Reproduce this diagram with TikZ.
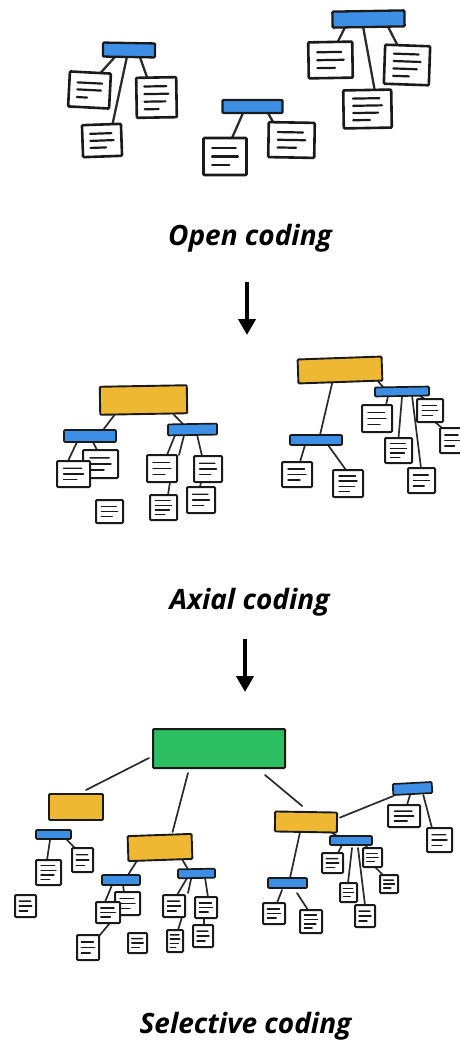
\documentclass[tikz,border=0pt]{standalone}
\usepackage{fontspec}
\setmainfont{Open Sans}
\usetikzlibrary{calc,arrows.meta}
\pgfdeclarelayer{bg}
\pgfdeclarelayer{paper}
\pgfsetlayers{paper,bg,main}
\definecolor{cblue}{HTML}{3D8FE6}
\definecolor{cyel}{HTML}{EFB833}
\definecolor{cgreen}{HTML}{2EBE62}
\definecolor{ink}{HTML}{1A1A1A}
\definecolor{linkc}{HTML}{2B2B2B}
\def\Lthree{0.28/0.75,0.5/0.8,0.72/0.6}
\def\Lfour{0.22/0.75,0.41/0.8,0.6/0.72,0.79/0.55}
\def\Lpa{0.3/0.8,0.5/0.78,0.72/0.45}
\newcommand{\docnode}[7]{%
 \node[docbox,minimum width=#4pt,minimum height=#5pt,rotate=#6] (#1) at (#2,#3) {};
 \foreach \ff/\ee in #7 {
   \draw[docline] ($($(#1.north west)!\ff!(#1.south west)$)!0.2!($(#1.north east)!\ff!(#1.south east)$)$) -- ($($(#1.north west)!\ff!(#1.south west)$)!\ee!($(#1.north east)!\ff!(#1.south east)$)$);
 }}
\newcommand{\barnode}[7]{\node[#7,minimum width=#4pt,minimum height=#5pt,rotate=#6] (#1) at (#2,#3) {};}
\tikzset{
 docbox/.style={draw=ink,fill=white,line width=2pt,rounded corners=1pt,inner sep=0pt,outer sep=0pt},
 docline/.style={draw=ink,line width=1.4pt,line cap=round},
 bluebar/.style={draw=ink,fill=cblue,line width=1.7pt,rounded corners=1pt,inner sep=0pt,outer sep=0pt},
 yelbox/.style={draw=ink,fill=cyel,line width=1.9pt,rounded corners=1pt,inner sep=0pt,outer sep=0pt},
 greenbox/.style={draw=ink,fill=cgreen,line width=2pt,rounded corners=1pt,inner sep=0pt,outer sep=0pt},
 conn/.style={draw=linkc,line width=1.7pt,line cap=round},
 bigarrow/.style={draw=black,line width=4pt,-{Triangle[width=17pt,length=16pt]}},
 codingtext/.style={font=\fontsize{28}{32}\selectfont\bfseries\itshape,inner sep=0pt}
}
\begin{document}
\begin{tikzpicture}[x=1pt,y=-1pt]
\useasboundingbox (0,0) rectangle (459,1041);
\begin{pgfonlayer}{paper}
\fill[white] (0,0) rectangle (459,1041);
\end{pgfonlayer}

% ---------- Panel 1: open coding ----------
\begin{scope}[docbox/.append style={line width=2.6pt},docline/.append style={line width=2.2pt},
  bluebar/.append style={line width=2.3pt},conn/.append style={line width=2.3pt}]
\barnode{b1}{129}{50}{52}{14}{-1}{bluebar}
\docnode{p1a}{89.5}{90}{41}{35}{-3}{\Lpa}
\docnode{p1b}{156.5}{97.5}{40}{40}{1}{\Lfour}
\docnode{p1c}{102}{140.5}{39}{32}{2}{\Lthree}
\barnode{b2}{252.5}{106.5}{60}{13}{0}{bluebar}
\docnode{p2a}{225}{156.5}{43}{37}{0}{\Lthree}
\docnode{p2b}{291.5}{140}{46}{35}{-1}{\Lthree}
\barnode{b3}{368.5}{19}{72}{16}{1}{bluebar}
\docnode{p3a}{330.5}{60}{44}{36}{1}{\Lthree}
\docnode{p3b}{407}{65}{45}{39}{-2}{\Lfour}
\docnode{p3c}{367.5}{109}{48}{38}{1}{\Lfour}
\begin{pgfonlayer}{bg}
\draw[conn] ([xshift=-14pt]b1.south) -- ([xshift=10.5pt]p1a.north);
\draw[conn] ([xshift=-2pt]b1.south) -- ([xshift=11pt]p1c.north);
\draw[conn] ([xshift=11pt]b1.south) -- ([xshift=-9pt]p1b.north);
\draw[conn] ([xshift=-9.5pt]b2.south) -- ([xshift=7pt]p2a.north);
\draw[conn] ([xshift=15.5pt]b2.south) -- ([xshift=-18.5pt]p2b.north);
\draw[conn] ([xshift=-23.5pt]b3.south) -- ([xshift=7.5pt]p3a.north);
\draw[conn] ([xshift=-5.5pt]b3.south) -- ([xshift=7.5pt]p3c.north);
\draw[conn] ([xshift=19.5pt]b3.south) -- ([xshift=-10pt]p3b.north);
\end{pgfonlayer}
\end{scope}

\node[codingtext] (lab1) at (250,238.5) {Open coding};
\coordinate (a1s) at (247,282);
\coordinate (a1e) at (247,335);
\draw[bigarrow] (a1s) -- (a1e);

% ---------- Panel 2: axial coding ----------
\barnode{y1}{143.5}{400}{87}{28}{1}{yelbox}
\barnode{c1}{90}{436}{52}{12}{0}{bluebar}
\barnode{c2}{192.5}{429.5}{49}{11}{1}{bluebar}
\docnode{q2}{100.5}{464}{35}{28}{0}{\Lthree}
\docnode{q1}{73.5}{474}{33}{26}{0}{\Lthree}
\docnode{q0}{109.5}{511.5}{27}{23}{0}{\Lthree}
\docnode{q3}{162}{468.5}{30}{27}{0}{\Lthree}
\docnode{q4}{208}{469}{28}{26}{0}{\Lthree}
\docnode{q5}{163.5}{507.5}{27}{25}{0}{\Lfour}
\docnode{q6}{201}{500}{28}{26}{0}{\Lthree}
\barnode{y2}{340}{370}{84}{24}{2}{yelbox}
\barnode{c3}{316}{440}{52}{10}{0}{bluebar}
\barnode{c4}{402}{391.5}{54}{9}{1}{bluebar}
\docnode{r1}{297}{474.5}{30}{25}{0}{\Lthree}
\docnode{r2}{348}{483.5}{30}{27}{0}{\Lfour}
\docnode{e1}{377}{418.5}{30}{27}{0}{\Lthree}
\docnode{e2}{430}{410.5}{26}{23}{0}{\Lthree}
\docnode{e3}{398.5}{450.5}{27}{25}{0}{\Lfour}
\docnode{e4}{421.5}{480.5}{27}{25}{0}{\Lthree}
\docnode{e5}{452}{440.5}{24}{25}{0}{\Lthree}
\begin{pgfonlayer}{bg}
\draw[conn] ([xshift=-28.5pt]y1.south) -- ([xshift=13pt]c1.north);
\draw[conn] ([xshift=29.5pt]y1.south) -- ([xshift=-9.5pt]c2.north);
\draw[conn] ([xshift=-13pt]c1.south) -- ([xshift=-5.5pt]q1.north);
\draw[conn] ([xshift=3pt]c1.south) -- ([xshift=-3.5pt]q2.north);
\draw[conn] ([xshift=-17.5pt]c2.south) -- ([xshift=5pt]q3.north);
\draw[conn] ([xshift=-8.5pt]c2.south) -- ([xshift=2pt]q3.north east);
\draw[conn] ([xshift=4.5pt]c2.south) -- ([xshift=-6pt]q4.north);
\draw[conn] ([xshift=8pt]q3.south) -- ([xshift=4.5pt]q5.north);
\draw[conn] ([xshift=-7pt]q4.south) -- ([xshift=-1pt]q6.north);
\draw[conn] ([xshift=-8pt]y2.south) -- ([xshift=4pt]c3.north);
\draw[conn] ([xshift=-5pt]y2.south east) -- ([xshift=-19pt]c4.north);
\draw[conn] ([xshift=-11pt]c3.south) -- ([xshift=3pt]r1.north);
\draw[conn] ([xshift=12pt]c3.south) -- ([xshift=-2pt]r2.north);
\draw[conn] ([xshift=-14pt]c4.south) -- ([xshift=9pt]e1.north);
\draw[conn] (c4.south) -- (e3.north);
\draw[conn] ([xshift=10pt]c4.south) -- ([xshift=-0.5pt]e4.north);
\draw[conn] ([xshift=18pt]c4.south) -- ([xshift=-5pt]e2.north);
\draw[conn] ([xshift=5pt]e2.south) -- ([xshift=-10pt]e5.north);
\end{pgfonlayer}

\node[codingtext] (lab2) at (249.5,602.5) {Axial coding};
\coordinate (a2s) at (245,639);
\coordinate (a2e) at (245,692);
\draw[bigarrow] (a2s) -- (a2e);

% ---------- Panel 3: selective coding ----------
\barnode{g}{219}{748.5}{132}{39}{0}{greenbox}
\barnode{yl}{76}{807}{54}{26}{0}{yelbox}
\barnode{ym}{160}{847.5}{64}{25}{2}{yelbox}
\barnode{yr}{306}{822}{62}{20}{-1}{yelbox}
\barnode{bl}{53.5}{834.5}{35}{9}{0}{bluebar}
\docnode{s1}{48.5}{872.5}{25}{25}{0}{\Lfour}
\docnode{s2}{82.5}{860}{21}{24}{0}{\Lthree}
\docnode{s0}{25.5}{906}{21}{22}{0}{\Lthree}
\barnode{bml}{121}{880}{38}{10}{0}{bluebar}
\barnode{bmr}{196.5}{873.5}{37}{9}{1}{bluebar}
\docnode{sb}{127.5}{903.5}{25}{23}{0}{\Lthree}
\docnode{sa}{108}{912.5}{24}{21}{0}{\Lthree}
\docnode{sc}{88}{947.5}{22}{25}{0}{\Lthree}
\docnode{sd}{137.5}{943}{19}{20}{0}{\Lthree}
\docnode{t1}{174}{906}{22}{22}{0}{\Lthree}
\docnode{t2}{206}{907.5}{22}{21}{0}{\Lthree}
\docnode{t3}{175}{941}{16}{22}{0}{\Lfour}
\docnode{t4}{203}{936}{20}{22}{0}{\Lthree}
\barnode{btr}{412.5}{788.5}{39}{11}{3}{bluebar}
\docnode{u1}{404}{816}{32}{22}{0}{\Lthree}
\docnode{u2}{439.5}{840}{25}{24}{0}{\Lthree}
\barnode{bmid}{351}{840.5}{42}{9}{0}{bluebar}
\docnode{m1}{332.5}{863}{21}{20}{0}{\Lthree}
\docnode{m2}{372.5}{857.5}{19}{19}{0}{\Lthree}
\docnode{m3}{348.5}{892.5}{17}{19}{0}{\Lthree}
\docnode{m4}{389}{884}{18}{18}{0}{\Lthree}
\docnode{m5}{365}{916}{20}{22}{0}{\Lthree}
\barnode{blo}{287.5}{883}{39}{10}{0}{bluebar}
\docnode{l1}{274}{913.5}{22}{21}{0}{\Lthree}
\docnode{l2}{311}{921.5}{22}{23}{0}{\Lfour}
\begin{pgfonlayer}{bg}
\draw[conn] ([shift={(-4,9.5)}]g.west) -- ([shift={(10,-4)}]yl.north);
\draw[conn] ([shift={(-31,5)}]g.south) -- ([shift={(13,-3)}]ym.north);
\draw[conn] ([shift={(46,7)}]g.south) -- ([shift={(-4,-6)}]yr.north);
\draw[conn] ([shift={(-3.5,1)}]bl.south) -- ([xshift=-1.5pt]s1.north);
\draw[conn] ([shift={(13.5,1)}]bl.south) -- ([xshift=-7.5pt]s2.north);
\draw[conn] ([xshift=-23pt]ym.south) -- ([xshift=7pt]bml.north);
\draw[conn] ([xshift=22pt]ym.south) -- ([xshift=-8.5pt]bmr.north);
\draw[conn] ([xshift=-9pt]bml.south) -- ([xshift=-3pt]sa.north);
\draw[conn] ([xshift=2pt]bml.south) -- ([xshift=-3.5pt]sb.north);
\draw[conn] ([xshift=2pt]sa.south) -- ([shift={(0,1)}]sc.north east);
\draw[conn] ([xshift=-9.5pt]bmr.south) -- ([xshift=3pt]t1.north);
\draw[conn] ([shift={(-5.5,1)}]bmr.south) -- ([shift={(3,-2)}]t1.north east);
\draw[conn] ([xshift=8.5pt]bmr.south) -- ([xshift=2pt]t2.north);
\draw[conn] ([xshift=8pt]t1.south) -- ([xshift=3pt]t3.north);
\draw[conn] ([xshift=-2pt]t2.south) -- ([xshift=1pt]t4.north);
\draw[conn] ([shift={(3,-5)}]yr.east) -- ([shift={(0,1)}]btr.south west);
\draw[conn] ([xshift=-2.5pt]btr.south) -- ([xshift=3pt]u1.north);
\draw[conn] ([shift={(10.5,1)}]btr.south) -- ([xshift=-7.5pt]u2.north);
\draw[conn] ([xshift=-5pt]yr.south east) -- ([xshift=-14pt]bmid.north);
\draw[conn] ([xshift=-9pt]bmid.south) -- ([xshift=5.5pt]m1.north);
\draw[conn] ([shift={(1,3)}]bmid.south) -- ([xshift=-0.5pt]m3.north);
\draw[conn] ([shift={(7,3)}]bmid.south) -- (m5.north);
\draw[conn] ([xshift=14pt]bmid.south) -- ([xshift=-4.5pt]m2.north);
\draw[conn] ([xshift=2.5pt]m2.south) -- ([xshift=-6pt]m4.north);
\draw[conn] ([shift={(-6,1)}]yr.south) -- ([xshift=2.5pt]blo.north);
\draw[conn] ([shift={(-5.5,2)}]blo.south) -- ([xshift=3pt]l1.north);
\draw[conn] ([shift={(9.5,5)}]blo.south) -- ([xshift=-3pt]l2.north);
\end{pgfonlayer}

\node[codingtext] (lab3) at (245.5,1026) {Selective coding};
\end{tikzpicture}
\end{document}
